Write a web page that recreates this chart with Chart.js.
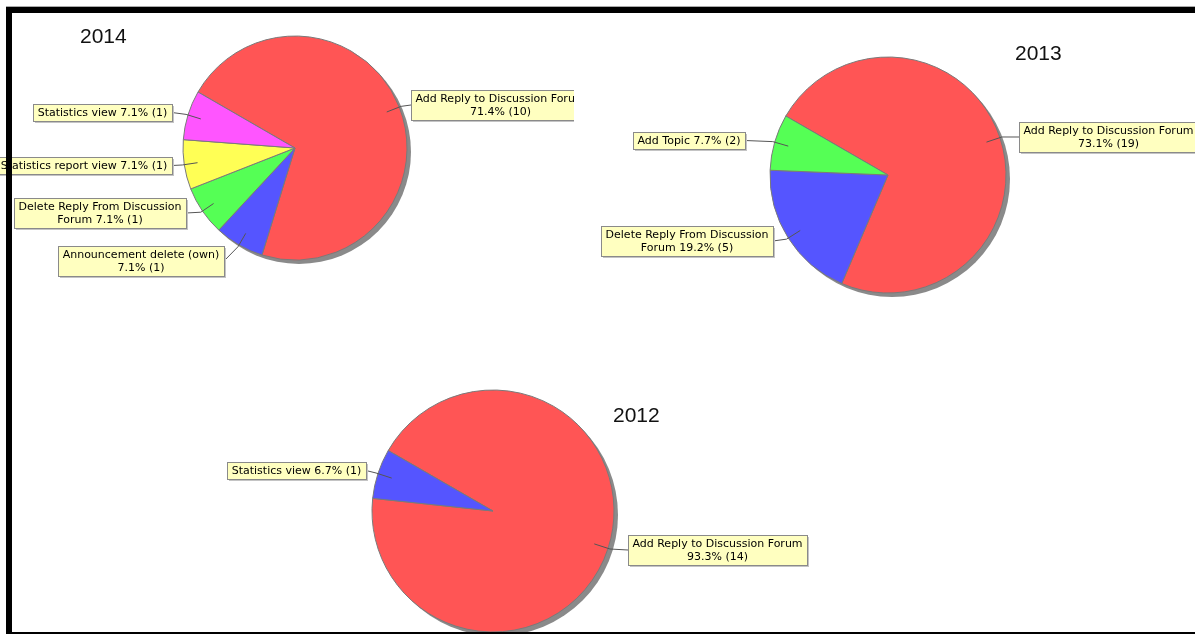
<!DOCTYPE html>
<html>
<head>
<meta charset="utf-8">
<script src="https://cdn.jsdelivr.net/npm/chart.js"></script>
<style>
  body { margin: 0; background: #fff; overflow: hidden; }
  #page { position: relative; width: 1195px; height: 634px; }
  #page canvas { position: absolute; left: 0; top: 0; }
  .frame { position: absolute; background: #000; z-index: 5; }
</style>
</head>
<body>
<div id="page">
  <canvas id="pie2014" width="1195" height="634"></canvas>
  <canvas id="pie2013" width="1195" height="634"></canvas>
  <canvas id="pie2012" width="1195" height="634"></canvas>
  <div class="frame" style="left:6px;top:6px;width:1189px;height:1px;background:#aaa"></div>
  <div class="frame" style="left:6px;top:7px;width:1189px;height:6px"></div>
  <div class="frame" style="left:6px;top:7px;width:6px;height:627px"></div>
  <div class="frame" style="left:6px;top:632px;width:1189px;height:2px"></div>
</div>
<script>
// Data (event counts per year)
var labels2014 = ['Add Reply to Discussion Forum', 'Announcement delete (own)', 'Delete Reply From Discussion Forum', 'Statistics report view', 'Statistics view'];
var values2014 = [10, 1, 1, 1, 1];

var labels2013 = ['Add Reply to Discussion Forum', 'Delete Reply From Discussion Forum', 'Add Topic'];
var values2013 = [19, 5, 2];

var labels2012 = ['Add Reply to Discussion Forum', 'Statistics view'];
var values2012 = [14, 1];

var RED = '#ff5555', BLUE = '#5555ff', GREEN = '#55ff55', YELLOW = '#ffff55', MAGENTA = '#ff55ff';
var W = 1195, H = 634;

// greedy word wrap like the jfreechart labels
function wrapText(ctx, text, maxWidth) {
    var words = text.split(' ');
    var lines = [];
    var cur = '';
    words.forEach(function(w) {
        var test = cur ? cur + ' ' + w : w;
        if (cur && ctx.measureText(test).width > maxWidth) {
            lines.push(cur);
            cur = w;
        } else {
            cur = test;
        }
    });
    if (cur) lines.push(cur);
    return lines;
}

// shadow under the pie, year caption and the yellow link labels
var pieExtras = {
    id: 'pieExtras',
    beforeDatasetsDraw: function(chart) {
        var arc = chart.getDatasetMeta(0).data[0];
        var ctx = chart.ctx;
        ctx.save();
        ctx.fillStyle = '#8a8a8a';
        ctx.beginPath();
        ctx.arc(arc.x + 4, arc.y + 4, arc.outerRadius, 0, Math.PI * 2);
        ctx.fill();
        ctx.restore();
    },
    afterDraw: function(chart, args, opts) {
        var ctx = chart.ctx;
        var meta = chart.getDatasetMeta(0);
        var values = chart.data.datasets[0].data;
        var total = values.reduce(function(a, b) { return a + b; }, 0);

        ctx.save();
        ctx.font = '21px "Liberation Sans"';
        ctx.fillStyle = '#111';
        ctx.textAlign = 'left';
        ctx.textBaseline = 'alphabetic';
        ctx.fillText(opts.title, opts.titleX, opts.titleY);

        if (opts.clipRight) {
            ctx.beginPath();
            ctx.rect(0, 0, opts.clipRight, H);
            ctx.clip();
        }

        ctx.font = '11px "DejaVu Sans"';
        meta.data.forEach(function(arc, i) {
            var box = opts.boxes[i];
            var text = chart.data.labels[i] + ' ' + (values[i] / total * 100).toFixed(1) + '% (' + values[i] + ')';
            var lines = wrapText(ctx, text, 178);
            var tw = 0;
            lines.forEach(function(l) { tw = Math.max(tw, ctx.measureText(l).width); });
            var bw = Math.round(tw + 9);
            var bh = lines.length * 13 + 4;
            var bx = box.side === 'right' ? box.x : box.x - bw;
            var by = Math.round(box.y - bh / 2);

            var mid = (arc.startAngle + arc.endAngle) / 2;
            var r = arc.outerRadius;
            var ax = arc.x + Math.cos(mid) * r * 0.88;
            var ay = arc.y + Math.sin(mid) * r * 0.88;
            var ex = arc.x + Math.cos(mid) * (r + 2);
            var ey = arc.y + Math.sin(mid) * (r + 2);
            var lx = box.side === 'right' ? bx : bx + bw;

            ctx.strokeStyle = '#555';
            ctx.lineWidth = 1;
            ctx.beginPath();
            ctx.moveTo(ax, ay);
            ctx.lineTo(ex, ey);
            ctx.lineTo(lx, by + bh / 2);
            ctx.stroke();

            ctx.fillStyle = '#c4c4c4';
            ctx.fillRect(bx + 2, by + 2, bw, bh);
            ctx.fillStyle = '#ffffc0';
            ctx.fillRect(bx, by, bw, bh);
            ctx.strokeStyle = '#8a8a8a';
            ctx.strokeRect(bx + 0.5, by + 0.5, bw, bh);

            ctx.fillStyle = '#000';
            ctx.textAlign = 'center';
            ctx.textBaseline = 'middle';
            lines.forEach(function(l, k) {
                ctx.fillText(l, bx + bw / 2, by + 2.5 + 6.5 + k * 13);
            });
        });
        ctx.restore();
    }
};

function makePie(id, labels, values, colors, cx, cy, r, extras) {
    var config = {
        type: 'pie',
        data: {
            labels: labels,
            datasets: [{
                data: values,
                backgroundColor: colors,
                borderColor: '#7a7a7a',
                borderWidth: 1,
                radius: r,
                clip: false,
                hoverOffset: 0
            }]
        },
        options: {
            responsive: false,
            animation: false,
            events: [],
            rotation: -60,
            layout: {
                padding: { left: cx - r, top: cy - r, right: W - cx - r, bottom: H - cy - r }
            },
            plugins: {
                legend: { display: false },
                tooltip: { enabled: false },
                pieExtras: extras
            }
        },
        plugins: [pieExtras]
    };
    new Chart(document.getElementById(id), config);
}

makePie('pie2014', labels2014, values2014, [RED, BLUE, GREEN, YELLOW, MAGENTA], 295, 148, 112, {
    title: '2014', titleX: 80, titleY: 43, clipRight: 574,
    boxes: [
        { side: 'right', x: 411, y: 105 },
        { side: 'left', x: 224, y: 261 },
        { side: 'left', x: 186, y: 213 },
        { side: 'left', x: 172, y: 165 },
        { side: 'left', x: 172, y: 112 }
    ]
});

makePie('pie2013', labels2013, values2013, [RED, BLUE, GREEN], 888, 175, 118, {
    title: '2013', titleX: 1015, titleY: 60,
    boxes: [
        { side: 'right', x: 1019, y: 137 },
        { side: 'left', x: 773, y: 241 },
        { side: 'left', x: 745, y: 140 }
    ]
});

makePie('pie2012', labels2012, values2012, [RED, BLUE], 493, 511, 121, {
    title: '2012', titleX: 613, titleY: 422,
    boxes: [
        { side: 'right', x: 628, y: 550 },
        { side: 'left', x: 366, y: 470 }
    ]
});
</script>
</body>
</html>
